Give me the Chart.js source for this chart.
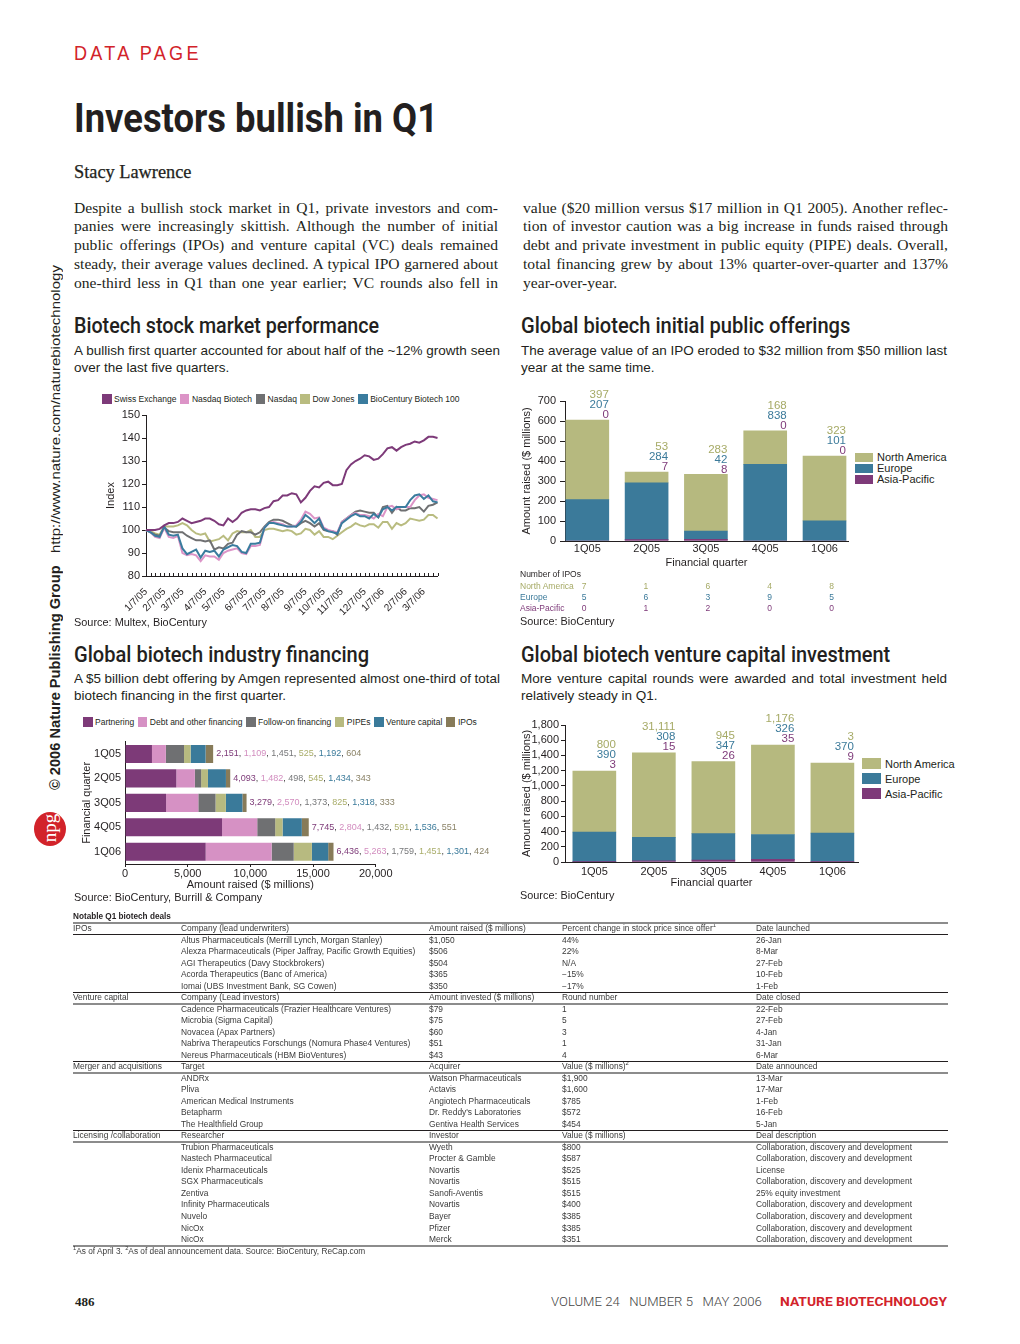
<!DOCTYPE html>
<html><head><meta charset="utf-8">
<title>Investors bullish in Q1</title>
<script src="https://cdn.jsdelivr.net/npm/chart.js"></script>
<style>
html,body{margin:0;padding:0;background:#fff}
body{width:1020px;height:1344px;position:relative;overflow:hidden;font-family:'Liberation Sans',Arial,sans-serif;color:#231f20}
.a{position:absolute;white-space:nowrap}
.serif{font-family:'Liberation Serif','Times New Roman',serif}
.rob{font-family:Roboto,'Liberation Sans',sans-serif}
.para{position:absolute;transform-origin:0 0}
.para>div{white-space:nowrap;width:max-content}
canvas{position:absolute}
.legend{position:absolute;display:flex;align-items:center;white-space:nowrap;font-size:8.5px;line-height:10px}
.legend .it{display:flex;align-items:center;margin-right:3.6px}
.legend .bx{display:inline-block;width:9.5px;height:10px;margin-right:2.5px}
.vleg{position:absolute;font-size:11px}
.vleg .it{position:absolute;left:0;display:flex;align-items:center;white-space:nowrap}
.tbl{position:absolute;left:73px;top:0;width:875px;font-size:8.4px;color:#3a3a3a}
.row{position:absolute;left:0;width:875px;height:11.52px;line-height:11.52px}
.row span{position:absolute;top:0;white-space:nowrap}
.rule{position:absolute;left:73px;width:875px}
sup{font-size:70%;line-height:0;vertical-align:4px}
</style></head>
<body>

<!-- side text -->
<div class="a" style="left:47px;top:790px;transform-origin:0 0;transform:rotate(-90deg);line-height:16px;"><span data-fit="225" style="display:inline-block;font-weight:bold;font-size:14.5px;">© 2006 Nature Publishing Group</span></div>
<div class="a" style="left:47px;top:553px;transform-origin:0 0;transform:rotate(-90deg);line-height:16px;"><span data-fit="288" style="display:inline-block;font-size:13.5px;">http://www.nature.com/naturebiotechnology</span></div>
<div class="a" style="left:34px;top:812px;width:32px;height:34px;border-radius:50%;background:#d2232a;"></div>
<div class="a serif" style="left:38px;top:845px;transform-origin:0 0;transform:rotate(-90deg);line-height:24px;font-size:19px;color:#fff;width:34px;text-align:center;">npg</div>

<!-- header -->
<div class="a" data-fit="128" style="left:74px;top:42px;font-size:19.5px;line-height:22px;letter-spacing:3.5px;color:#d2232a;">DATA PAGE</div>
<div class="a rob" data-fit="364" style="left:74px;top:97px;font-weight:700;font-size:41px;line-height:42px;color:#231f20;">Investors bullish in Q1</div>
<div class="a serif" data-fit="117" style="left:74px;top:162px;font-size:18px;line-height:20px;color:#231f20;-webkit-text-stroke:0.25px #231f20;">Stacy Lawrence</div>

<div class="para serif" data-w="424" style="left:74px;top:198.5px;font-size:15.6px;line-height:18.75px;color:#231f20;">
<div class="j">Despite a bullish stock market in Q1, private investors and com-</div>
<div class="j">panies were increasingly skittish. Although the number of initial</div>
<div class="j">public offerings (IPOs) and venture capital (VC) deals remained</div>
<div class="j">steady, their average values declined. A typical IPO garnered about</div>
<div class="j">one-third less in Q1 than one year earlier; VC rounds also fell in</div>
</div>
<div class="para serif" data-w="425" style="left:523px;top:198.5px;font-size:15.6px;line-height:18.75px;color:#231f20;">
<div class="j">value ($20 million versus $17 million in Q1 2005). Another reflec-</div>
<div class="j">tion of investor caution was a big increase in funds raised through</div>
<div class="j">debt and private investment in public equity (PIPE) deals. Overall,</div>
<div class="j">total financing grew by about 13% quarter-over-quarter and 137%</div>
<div>year-over-year.</div>
</div>

<!-- section headings -->
<div class="a rob" data-fit="305" style="left:74px;top:314px;font-weight:500;font-size:21.5px;line-height:24px;">Biotech stock market performance</div>
<div class="a rob" data-fit="329" style="left:521px;top:314px;font-weight:500;font-size:21.5px;line-height:24px;">Global biotech initial public offerings</div>
<div class="a rob" data-fit="295" style="left:74px;top:643px;font-weight:500;font-size:21.5px;line-height:24px;">Global biotech industry financing</div>
<div class="a rob" data-fit="369" style="left:521px;top:643px;font-weight:500;font-size:21.5px;line-height:24px;">Global biotech venture capital investment</div>

<div class="para" data-w="426" style="left:74px;top:341.5px;font-size:13.5px;line-height:17px;">
<div class="j">A bullish first quarter accounted for about half of the ~12% growth seen</div>
<div>over the last five quarters.</div>
</div>
<div class="para" data-w="426" style="left:521px;top:341.5px;font-size:13.5px;line-height:17px;">
<div class="j">The average value of an IPO eroded to $32 million from $50 million last</div>
<div>year at the same time.</div>
</div>
<div class="para" data-w="426" style="left:74px;top:669.5px;font-size:13.5px;line-height:17px;">
<div class="j">A $5 billion debt offering by Amgen represented almost one-third of total</div>
<div>biotech financing in the first quarter.</div>
</div>
<div class="para" data-w="426" style="left:521px;top:669.5px;font-size:13.5px;line-height:17px;">
<div class="j">More venture capital rounds were awarded and total investment held</div>
<div>relatively steady in Q1.</div>
</div>

<!-- legends -->
<div class="legend" id="legLine" style="left:102px;top:394px;"></div>
<div class="legend" id="legFin" style="left:83px;top:717px;"></div>
<div class="vleg" id="legIpo" style="left:855px;top:453px;"></div>
<div class="vleg" id="legVc" style="left:862px;top:758px;"></div>

<!-- charts -->
<canvas id="cLine" width="360" height="235" style="left:96px;top:405px;"></canvas>
<canvas id="cIpo" width="345" height="185" style="left:515px;top:385px;"></canvas>
<canvas id="cFin" width="432" height="162" style="left:75px;top:730px;"></canvas>
<canvas id="cVc" width="345" height="180" style="left:515px;top:710px;"></canvas>

<div id="ipoCounts"></div>

<div class="a" data-fit="133" style="left:74px;top:616px;font-size:11px;line-height:13px;">Source: Multex, BioCentury</div>
<div class="a" data-fit="94" style="left:520px;top:615px;font-size:11px;line-height:13px;">Source: BioCentury</div>
<div class="a" data-fit="188" style="left:74px;top:891px;font-size:11px;line-height:13px;">Source: BioCentury, Burrill &amp; Company</div>
<div class="a" data-fit="94" style="left:520px;top:889px;font-size:11px;line-height:13px;">Source: BioCentury</div>

<div id="deals"></div>

<!-- footer -->
<div class="a serif" style="left:75px;top:1294px;font-weight:bold;font-size:13px;line-height:16px;">486</div>
<div class="a rob" data-fit="211" style="left:551px;top:1294px;font-size:13px;line-height:16px;color:#444;font-weight:300;">VOLUME 24&nbsp;&nbsp;&nbsp;NUMBER 5&nbsp;&nbsp;&nbsp;MAY 2006</div>
<div class="a rob" data-fit="167" style="left:780px;top:1294px;font-weight:700;font-size:13px;line-height:16px;color:#d2232a;">NATURE BIOTECHNOLOGY</div>

<script>
// ---------------- data ----------------
const quarters = ['1Q05', '2Q05', '3Q05', '4Q05', '1Q06'];

// Biotech stock market performance (weekly index, 1/7/05 = 100)
const lineTickText = ['1/7/05','2/7/05','3/7/05','4/7/05','5/7/05','6/7/05','7/7/05','8/7/05','9/7/05','10/7/05','11/7/05','12/7/05','1/7/06','2/7/06','3/7/06'];
const lineTickWeek = [0,4,8,13,17,22,26,30,35,39,43,48,52,57,61];
const swissExchange = [100,100,100,100.5,102,103,103,103.5,105,104,103,103.5,104,105,105,104,102.5,102,105,103.5,105,107.5,108.5,109,109,108.5,109.5,110,112.5,113,115,115,116,115.5,112,114,117,119,118.5,120.5,121,119.5,119.5,120,126,128.5,130,131,132.5,132,130.5,131,133,135.5,136,134.5,136,137,137.5,138.5,138,139,140.5,140.5,140];
const nasdaqBiotech = [100,99,97,96.5,101,97,96.5,97.5,90,89,89.5,89,86.5,89,88.5,88.5,87,90,91,91.5,92,90,89.5,93,93,93.5,101,103,103.5,103,102.5,101.5,101.5,102,104.5,108,107,105,105.5,101,100,99.5,99,103.5,105,106.5,107.5,106.5,106.5,106,105,107,106,110,110.5,109,110,110,110,113,115,115.5,114,113.5,113];
const nasdaq = [100,99,98,97.5,101,99.5,99,99,99,97.5,96.5,95.5,95.5,95,95.5,91.5,92.5,92,94,94.5,98,99.5,99,99,98,99,101.5,103.5,104.5,104.5,104,103,102,101.5,103,104,103,101.5,103,100,99.5,99.5,98,103.5,105,106.5,108,108.5,108,107.5,107.5,105.5,110,110.5,107.5,110,108.5,108.5,109.5,109.5,110,108,110.5,111,112];
const dowJones = [100,99.5,98.5,98,101.5,101.5,101.5,102,103,102,100,98.5,98,98.5,95,95.5,96,97.5,95.5,98.5,99.5,99,99,100,97,97,100,100.5,100.5,100,99.5,100,99.5,98,98.5,100.5,100,98,99.5,97,97,96,97.5,99,100.5,101.5,103,102,101.5,102.5,102.5,101,103.5,103.5,100.5,103,102,103,105,104.5,104,104.5,106.5,106.5,105];
const bioCentury100 = [100,99,97.5,97,101.5,98,97.5,98,92,89.5,90.5,91.5,88,91,90.5,91,88.5,91.5,92.5,93.5,93,90.5,90,94,94,94.5,101,103,103,102.5,102,101.5,101.5,101.5,103.5,106.5,105,103,105,100.5,99.5,99,98.5,103,104.5,106,107,106,106,105,107,105.5,109,110,108.5,110,110,110,113,115,115.5,113.5,115,112.5,112];

// IPOs ($ millions) – bar heights as drawn; label texts as printed
const ipoAsiaPacific = [0, 7, 8, 0, 0];
const ipoEurope = [207, 284, 42, 383, 101];
const ipoNorthAmerica = [397, 53, 283, 168, 323];
const ipoLabelAsiaPacific = ['0', '7', '8', '0', '0'];
const ipoLabelEurope = ['207', '284', '42', '838', '101'];
const ipoLabelNorthAmerica = ['397', '53', '283', '168', '323'];
const ipoCountNorthAmerica = [7, 1, 6, 4, 8];
const ipoCountEurope = [5, 6, 3, 9, 5];
const ipoCountAsiaPacific = [0, 1, 2, 0, 0];

// Industry financing ($ millions)
const finPartnering = [2151, 4093, 3279, 7745, 6436];
const finDebt = [1109, 1482, 2570, 2804, 5263];
const finFollowOn = [1451, 498, 1373, 1432, 1759];
const finPIPEs = [525, 545, 825, 591, 1451];
const finVentureCapital = [1192, 1434, 1318, 1536, 1301];
const finIPOs = [604, 343, 333, 551, 424];

// Venture capital ($ millions)
const vcAsiaPacific = [3, 15, 26, 35, 9];
const vcEurope = [390, 308, 347, 326, 370];
const vcNorthAmerica = [800, 1111, 945, 1176, 922];
const vcLabelAsiaPacific = ['3', '15', '26', '35', '9'];
const vcLabelEurope = ['390', '308', '347', '326', '370'];
const vcLabelNorthAmerica = ['800', '31,111', '945', '1,176', '3'];

// Notable deals table
const dealSections = [
 {name:'IPOs', head:['Company (lead underwriters)','Amount raised ($ millions)','Percent change in stock price since offer<sup>1</sup>','Date launched'],
  rows:[['Altus Pharmaceuticals (Merrill Lynch, Morgan Stanley)','$1,050','44%','26-Jan'],
        ['Alexza Pharmaceuticals (Piper Jaffray, Pacific Growth Equities)','$506','22%','8-Mar'],
        ['AGI Therapeutics (Davy Stockbrokers)','$504','N/A','27-Feb'],
        ['Acorda Therapeutics (Banc of America)','$365','\u221215%','10-Feb'],
        ['Iomai (UBS Investment Bank, SG Cowen)','$350','\u221217%','1-Feb']]},
 {name:'Venture capital', head:['Company (Lead investors)','Amount invested ($ millions)','Round number','Date closed'],
  rows:[['Cadence Pharmaceuticals (Frazier Healthcare Ventures)','$79','1','22-Feb'],
        ['Microbia (Sigma Capital)','$75','5','27-Feb'],
        ['Novacea (Apax Partners)','$60','3','4-Jan'],
        ['Nabriva Therapeutics Forschungs (Nomura Phase4 Ventures)','$51','1','31-Jan'],
        ['Nereus Pharmaceuticals (HBM BioVentures)','$43','4','6-Mar']]},
 {name:'Merger and acquisitions', head:['Target','Acquirer','Value ($ millions)<sup>2</sup>','Date announced'],
  rows:[['ANDRx','Watson Pharmaceuticals','$1,900','13-Mar'],
        ['Pliva','Actavis','$1,600','17-Mar'],
        ['American Medical Instruments','Angiotech Pharmaceuticals','$785','1-Feb'],
        ['Betapharm',"Dr. Reddy's Laboratories",'$572','16-Feb'],
        ['The Healthfield Group','Gentiva Health Services','$454','5-Jan']]},
 {name:'Licensing /collaboration', head:['Researcher','Investor','Value ($ millions)','Deal description'],
  rows:[['Trubion Pharmaceuticals','Wyeth','$800','Collaboration, discovery and development'],
        ['Nastech Pharmaceutical','Procter & Gamble','$587','Collaboration, discovery and development'],
        ['Idenix Pharmaceuticals','Novartis','$525','License'],
        ['SGX Pharmaceuticals','Novartis','$515','Collaboration, discovery and development'],
        ['Zentiva','Sanofi-Aventis','$515','25% equity investment'],
        ['Infinity Pharmaceuticals','Novartis','$400','Collaboration, discovery and development'],
        ['Nuvelo','Bayer','$385','Collaboration, discovery and development'],
        ['NicOx','Pfizer','$385','Collaboration, discovery and development'],
        ['NicOx','Merck','$351','Collaboration, discovery and development']]}
];

// ---------------- styles ----------------
const INK = '#231f20';
const C = {
  swiss:'#7d3a79', nbi:'#dc94c7', nasdaq:'#6f7072', dow:'#b9bc80', bio:'#3a7c9e',
  na:'#b6b97f', eu:'#3b7a9a', ap:'#7e3a79',
  naText:'#a6aa66', euText:'#3b7a9a', apText:'#7e3a79',
  part:'#7d3a78', debt:'#d691c4', follow:'#6f7072', pipe:'#b7ba80', vc:'#3a7a9a', ipo:'#877b59'
};
const FONT = "'Liberation Sans', Arial, sans-serif";
Chart.defaults.font.family = FONT;
Chart.defaults.color = INK;

// ---------------- legends ----------------
function hLegend(id, items){
  document.getElementById(id).innerHTML = items.map(([t,c]) =>
    `<span class="it"><span class="bx" style="background:${c}"></span>${t}</span>`).join('');
}
hLegend('legLine', [['Swiss Exchange',C.swiss],['Nasdaq Biotech',C.nbi],['Nasdaq',C.nasdaq],['Dow Jones',C.dow],['BioCentury Biotech 100',C.bio]]);
hLegend('legFin', [['Partnering',C.part],['Debt and other financing',C.debt],['Follow-on financing',C.follow],['PIPEs',C.pipe],['Venture capital',C.vc],['IPOs',C.ipo]]);
function vLegend(id, items, bw, bh, pitch){
  document.getElementById(id).innerHTML = items.map(([t,c],k) =>
    `<div class="it" style="top:${k*pitch}px;height:${bh}px"><span style="display:inline-block;width:${bw}px;height:${bh}px;background:${c};margin-right:4px"></span>${t}</div>`).join('');
}
vLegend('legIpo', [['North America',C.na],['Europe',C.eu],['Asia-Pacific',C.ap]], 18, 8.5, 11);
vLegend('legVc', [['North America',C.na],['Europe',C.eu],['Asia-Pacific',C.ap]], 19, 11, 15);

// IPO counts table
(function(){
  const rows = [['North America', ipoCountNorthAmerica, C.naText],['Europe', ipoCountEurope, C.euText],['Asia-Pacific', ipoCountAsiaPacific, C.apText]];
  let h = `<div class="a" style="left:520px;top:568px;font-size:8.5px;line-height:12px;">Number of IPOs</div>`;
  rows.forEach(([name, vals, col], r) => {
    const top = 580 + r*11;
    h += `<div class="a" style="left:520px;top:${top}px;font-size:8.5px;line-height:12px;color:${col}">${name}</div>`;
    vals.forEach((v,i) => {
      h += `<div class="a" style="left:${584 + i*61.9 - 10}px;width:20px;text-align:center;top:${top}px;font-size:8.5px;line-height:12px;color:${col}">${v}</div>`;
    });
  });
  document.getElementById('ipoCounts').innerHTML = h;
})();

// deals table
(function(){
  const rowH = 11.52, y0 = 923, cols = [0, 108, 356, 489, 683];
  let h = `<div class="a" style="left:0px;top:${y0 - rowH}px;height:${rowH}px;line-height:${rowH}px;font-size:8.2px;font-weight:bold;color:#231f20">Notable Q1 biotech deals</div>`;
  let k = 0; const rules = [];
  const cell = (txt, c) => `<span style="left:${cols[c]}px">${txt}</span>`;
  dealSections.forEach((sec, si) => {
    rules.push([k, si === 0 ? 'g' : 'b']); rules.push([k+1, si === 0 ? 'b' : 'g']);
    h += `<div class="row" style="top:${y0 + k*rowH}px">${cell(sec.name,0)}${sec.head.map((t,i)=>cell(t,i+1)).join('')}</div>`;
    k++;
    sec.rows.forEach(r => {
      h += `<div class="row" style="top:${y0 + k*rowH}px">${r.map((t,i)=>cell(t.replace(/&(?!amp;)/g,'&amp;'),i+1)).join('')}</div>`;
      k++;
    });
  });
  rules.push([k, 'g']);
  let rh = '';
  rules.forEach(([r, t]) => {
    const y = y0 + r*rowH;
    rh += t === 'g' ? `<div class="rule" style="top:${y-1}px;height:2px;background:#8c8c8c"></div>`
                    : `<div class="rule" style="top:${y-0.5}px;height:1px;background:#231f20"></div>`;
  });
  h = `<div class="tbl">${h}</div>` + rh;
  h += `<div class="a" style="left:73px;top:${y0 + k*rowH}px;height:${rowH}px;line-height:${rowH}px;font-size:8.3px;color:#3a3a3a"><sup>1</sup>As of April 3. <sup>2</sup>As of deal announcement data. Source: BioCentury, ReCap.com</div>`;
  document.getElementById('deals').innerHTML = h;
})();

// ---------------- plugins ----------------
const innerTicks = {id:'innerTicks', afterDraw(chart, args, o){
  const s = chart.scales.x, ctx = chart.ctx;
  ctx.save(); ctx.strokeStyle = INK; ctx.lineWidth = 1;
  s.ticks.forEach((t,i) => { const x = Math.round(s.getPixelForTick(i)) + 0.5;
    ctx.beginPath(); ctx.moveTo(x, s.top); ctx.lineTo(x, s.top - o.len); ctx.stroke(); });
  ctx.restore();
}};
const stackLabels = {id:'stackLabels', afterDatasetsDraw(chart, args, o){
  const meta = chart.getDatasetMeta(chart.data.datasets.length - 1), ctx = chart.ctx;
  ctx.save(); ctx.font = o.font; ctx.textAlign = 'right'; ctx.textBaseline = 'middle';
  meta.data.forEach((el, i) => {
    const right = el.x + el.width/2, top = Math.min(el.y, el.base);
    o.rows.forEach((r, k) => { ctx.fillStyle = r.color; ctx.fillText(r.text[i], right, top - o.first - k*o.step); });
  });
  ctx.restore();
}};
const rowLabels = {id:'rowLabels', afterDatasetsDraw(chart, args, o){
  const ds = chart.data.datasets, meta = chart.getDatasetMeta(ds.length - 1), ctx = chart.ctx;
  ctx.save(); ctx.font = o.font; ctx.textAlign = 'left'; ctx.textBaseline = 'middle';
  meta.data.forEach((el, i) => {
    let x = el.x + o.gap; const y = el.y;
    ds.forEach((d, k) => {
      const t = d.data[i].toLocaleString('en-US');
      ctx.fillStyle = o.colors[k]; ctx.fillText(t, x, y); x += ctx.measureText(t).width;
      if (k < ds.length - 1) { ctx.fillStyle = o.sep; ctx.fillText(', ', x, y); x += ctx.measureText(', ').width; }
    });
  });
  ctx.restore();
}};

const common = {responsive:false, devicePixelRatio:1, animation:false, events:[]};

// ---------------- line chart ----------------
const weekLabels = swissExchange.map((v, i) => { const k = lineTickWeek.indexOf(i); return k >= 0 ? lineTickText[k] : ''; });
new Chart(document.getElementById('cLine'), {
  type:'line',
  data:{labels: weekLabels, datasets:[
    {label:'Swiss Exchange', data: swissExchange, borderColor: C.swiss},
    {label:'BioCentury Biotech 100', data: bioCentury100, borderColor: C.bio},
    {label:'Nasdaq Biotech', data: nasdaqBiotech, borderColor: C.nbi},
    {label:'Nasdaq', data: nasdaq, borderColor: C.nasdaq},
    {label:'Dow Jones', data: dowJones, borderColor: C.dow}
  ]},
  options:{...common,
    elements:{line:{borderWidth:2, tension:0, fill:false}, point:{radius:0}},
    layout:{padding:{top:10, right:16, bottom:0, left:0}},
    plugins:{legend:{display:false}, tooltip:{enabled:false}, innerTicks:{len:3}},
    scales:{
      x:{type:'category', offset:false, grid:{display:false, drawTicks:false}, border:{display:true, color:INK, width:1},
         ticks:{autoSkip:false, minRotation:45, maxRotation:45, font:{size:10}, padding:10, color:INK},
         afterFit(s){ s.height = 64; }},
      y:{min:80, max:150, ticks:{stepSize:10, font:{size:11}, padding:2, color:INK, autoSkip:false},
         grid:{drawOnChartArea:false, tickLength:4, color:INK}, border:{color:INK},
         title:{display:true, text:'Index', font:{size:11}, padding:{top:8, bottom:0}, color:INK},
         afterFit(s){ s.width = 50; }}
    }},
  plugins:[innerTicks]
});

// ---------------- stacked regional bars ----------------
function regionChart(id, ap, eu, na, labels, cfg){
  return new Chart(document.getElementById(id), {
    type:'bar',
    data:{datasets:[
      {label:'Asia-Pacific', data: ap.map((v,i)=>({x:i, y:v})), backgroundColor:C.ap},
      {label:'Europe', data: eu.map((v,i)=>({x:i, y:v})), backgroundColor:C.eu},
      {label:'North America', data: na.map((v,i)=>({x:i, y:v})), backgroundColor:C.na}
    ]},
    options:{...common,
      datasets:{bar:{barThickness:43, borderWidth:0}},
      layout:{padding:{top:cfg.padTop, right:cfg.padRight, bottom:0, left:0}},
      plugins:{legend:{display:false}, tooltip:{enabled:false},
        stackLabels:{font:`11.5px ${FONT}`, first:cfg.first, step:10, rows:[
          {text:labels[0], color:C.apText}, {text:labels[1], color:C.euText}, {text:labels[2], color:C.naText}]}},
      scales:{
        x:{type:'linear', stacked:true, offset:false, min:cfg.xmin, max:cfg.xmax,
           grid:{display:false, drawTicks:false}, border:{display:true, color:INK},
           afterBuildTicks(s){ s.ticks = quarters.map((q,i)=>({value:i})); },
           ticks:{callback:(v)=>quarters[v], font:{size:11}, padding:cfg.xPad, autoSkip:false, maxRotation:0, color:INK},
           title:{display:true, text:'Financial quarter', font:{size:11}, padding:0, color:INK},
           afterFit(s){ s.height = cfg.xH; }},
        y:{stacked:true, min:0, max:cfg.ymax,
           ticks:{stepSize:cfg.step, font:{size:11}, padding:cfg.yPad, color:INK, autoSkip:false, callback:(v)=>v.toLocaleString('en-US')},
           grid:{drawOnChartArea:false, tickLength:cfg.tl, color:INK}, border:{color:INK},
           title:{display:true, text:'Amount raised ($ millions)', font:{size:11}, padding:{top:5, bottom:0}, color:INK},
           afterFit(s){ s.width = 50; }}
      }},
    plugins:[stackLabels]
  });
}
regionChart('cIpo', ipoAsiaPacific, ipoEurope, ipoNorthAmerica,
  [ipoLabelAsiaPacific, ipoLabelEurope, ipoLabelNorthAmerica],
  {padTop:16, padRight:12, xmin:-0.376, xmax:4.396, xPad:1.5, xH:29, ymax:700, step:100, yPad:4, tl:5, first:5});
regionChart('cVc', vcAsiaPacific, vcEurope, vcNorthAmerica,
  [vcLabelAsiaPacific, vcLabelEurope, vcLabelNorthAmerica],
  {padTop:15, padRight:2, xmin:-0.493, xmax:4.43, xPad:3.5, xH:28, ymax:1800, step:200, yPad:2, tl:4, first:6});

// ---------------- financing horizontal bars ----------------
new Chart(document.getElementById('cFin'), {
  type:'bar',
  data:{labels: quarters, datasets:[
    {label:'Partnering', data: finPartnering, backgroundColor:C.part},
    {label:'Debt and other financing', data: finDebt, backgroundColor:C.debt},
    {label:'Follow-on financing', data: finFollowOn, backgroundColor:C.follow},
    {label:'PIPEs', data: finPIPEs, backgroundColor:C.pipe},
    {label:'Venture capital', data: finVentureCapital, backgroundColor:C.vc},
    {label:'IPOs', data: finIPOs, backgroundColor:C.ipo}
  ]},
  options:{...common, indexAxis:'y',
    datasets:{bar:{categoryPercentage:1, barPercentage:0.74, borderWidth:0}},
    layout:{padding:{top:11.7, right:131.3, bottom:0, left:0}},
    plugins:{legend:{display:false}, tooltip:{enabled:false},
      rowLabels:{font:`9px ${FONT}`, gap:3, sep:'#3a3a3a',
        colors:['#7d3a78','#d28dbf','#77787a','#a9ad6a','#3a7a9a','#8a8266']}},
    scales:{
      x:{stacked:true, min:0, max:20000,
         ticks:{stepSize:5000, font:{size:11}, padding:0, color:INK, callback:(v)=>v.toLocaleString('en-US')},
         grid:{drawOnChartArea:false, tickLength:3, color:INK}, border:{color:INK},
         title:{display:true, text:'Amount raised ($ millions)', font:{size:11}, padding:0, color:INK},
         afterFit(s){ s.height = 28; }},
      y:{stacked:true, grid:{display:false, drawTicks:false}, border:{display:true, color:INK},
         ticks:{font:{size:11}, padding:4, color:INK},
         title:{display:true, text:'Financial quarter', font:{size:11}, padding:{top:5, bottom:0}, color:INK},
         afterFit(s){ s.width = 50; }}
    }},
  plugins:[rowLabels]
});

// ---------------- text fitting ----------------
function fitAll(){
  document.querySelectorAll('[data-fit]').forEach(el => {
    const T = +el.dataset.fit; const w = el.offsetWidth;
    if (w > 0) { el.style.transformOrigin = '0 50%'; el.style.transform = `scaleX(${T / w})`; }
  });
  document.querySelectorAll('.para').forEach(p => {
    const T = +p.dataset.w; const lines = [...p.children];
    let maxW = 0;
    lines.forEach(l => { if (l.classList.contains('j')) maxW = Math.max(maxW, l.getBoundingClientRect().width); });
    const s = maxW > T ? T / maxW : 1;
    lines.forEach(l => { if (l.classList.contains('j')) {
      const w = l.getBoundingClientRect().width; const n = (l.textContent.match(/ /g) || []).length;
      const extra = T / s - w; if (n && extra > 0) l.style.wordSpacing = (extra / n) + 'px'; } });
    if (s < 1) p.style.transform = `scaleX(${s})`;
  });
}
fitAll();
</script>
</body></html>
